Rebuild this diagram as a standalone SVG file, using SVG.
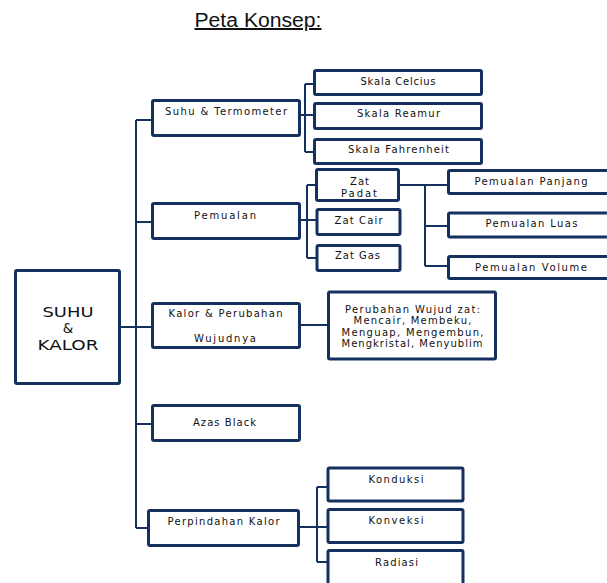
<svg xmlns="http://www.w3.org/2000/svg" width="607" height="583" viewBox="0 0 607 583">
<style>
.box{fill:#fff;stroke:#13305e;stroke-width:3;}
.c{fill:none;stroke:#13305e;stroke-width:2;}
text{font-family:"DejaVu Sans","Liberation Sans",sans-serif;font-size:10px;fill:#111;text-anchor:middle;}
.root{font-size:13.5px;}
.title{font-family:"Liberation Sans",Arial,sans-serif;font-size:20px;text-decoration:underline;}
</style>
<rect width="607" height="583" fill="#fff"/>
<text class="title" x="258" y="27" textLength="127" lengthAdjust="spacingAndGlyphs">Peta Konsep:</text>
<g id="connectors">
<path class="c" d="M136,120V528M121,327H151M136,120H151M136,222H151M136,424H151M136,528H147"/>
<path class="c" d="M301,115H305M305,84V152M305,84H313M305,115H313M305,152H313"/>
<path class="c" d="M301,220H307M307,185V258M307,185H315M307,220H316M307,258H316"/>
<path class="c" d="M400,185H425M425,185V266M425,185H447M425,226H447M425,266H447"/>
<path class="c" d="M301,325H327"/>
<path class="c" d="M300,527H317M317,487V562M317,487H327M317,527H327M317,562H327"/>
</g>
<g id="root"><rect class="box" x="15.5" y="270.5" width="104" height="113" rx="1.5"/>
<text class="root" x="68" y="316.5" textLength="51" lengthAdjust="spacingAndGlyphs">SUHU</text>
<text class="root" x="68" y="333">&amp;</text>
<text class="root" x="68" y="349.5" textLength="61" lengthAdjust="spacingAndGlyphs">KALOR</text></g>
<g id="suhu-termometer"><rect class="box" x="152.5" y="100.5" width="147" height="35" rx="1.5"/>
<text x="226" y="115" textLength="122">Suhu &amp; Termometer</text></g>
<g id="pemualan"><rect class="box" x="152.5" y="203.5" width="147" height="35" rx="1.5"/>
<text x="225" y="219" textLength="62">Pemualan</text></g>
<g id="kalor"><rect class="box" x="152.5" y="303.5" width="147" height="44" rx="1.5"/>
<text x="225.5" y="317" textLength="114">Kalor &amp; Perubahan</text>
<text x="225" y="342" textLength="62">Wujudnya</text></g>
<g id="azas-black"><rect class="box" x="152.5" y="405.5" width="147" height="35" rx="1.5"/>
<text x="224.5" y="426" textLength="63">Azas Black</text></g>
<g id="perpindahan"><rect class="box" x="148.5" y="510.5" width="150" height="35" rx="1.5"/>
<text x="223.5" y="525" textLength="112">Perpindahan Kalor</text></g>
<g id="skala-celcius"><rect class="box" x="314.5" y="70.5" width="167" height="24" rx="1.5"/>
<text x="398" y="85" textLength="75">Skala Celcius</text></g>
<g id="skala-reamur"><rect class="box" x="314.5" y="103.5" width="167" height="25" rx="1.5"/>
<text x="398.5" y="117" textLength="83">Skala Reamur</text></g>
<g id="skala-fahrenheit"><rect class="box" x="314.5" y="139.5" width="167" height="24" rx="1.5"/>
<text x="398.5" y="153" textLength="101">Skala Fahrenheit</text></g>
<g id="zat-padat"><rect class="box" x="316.5" y="169.5" width="82" height="31" rx="1.5"/>
<text x="359.5" y="185" textLength="19">Zat</text>
<text x="359" y="196.5" textLength="36">Padat</text></g>
<g id="zat-cair"><rect class="box" x="317" y="209.5" width="83" height="25" rx="1.5"/>
<text x="358.5" y="224" textLength="48">Zat Cair</text></g>
<g id="zat-gas"><rect class="box" x="317" y="245.5" width="83" height="25" rx="1.5"/>
<text x="357.5" y="259" textLength="45">Zat Gas</text></g>
<g id="pemualan-panjang"><rect class="box" x="448.5" y="170.5" width="165" height="23" rx="1.5"/>
<text x="531" y="185" textLength="113">Pemualan Panjang</text></g>
<g id="pemualan-luas"><rect class="box" x="448.5" y="213" width="165" height="24" rx="1.5"/>
<text x="531.5" y="226.5" textLength="92">Pemualan Luas</text></g>
<g id="pemualan-volume"><rect class="box" x="448.5" y="256.5" width="165" height="22" rx="1.5"/>
<text x="531" y="270.5" textLength="112">Pemualan Volume</text></g>
<g id="perubahan-wujud"><rect class="box" x="328.5" y="292" width="167" height="67" rx="1.5"/>
<text x="412.5" y="312.5" textLength="135">Perubahan Wujud zat:</text>
<text x="412.5" y="324" textLength="118">Mencair, Membeku,</text>
<text x="412.5" y="335.5" textLength="142">Menguap, Mengembun,</text>
<text x="412" y="347" textLength="141">Mengkristal, Menyublim</text></g>
<g id="konduksi"><rect class="box" x="328" y="468" width="135" height="33" rx="1.5"/>
<text x="396" y="482.5" textLength="55">Konduksi</text></g>
<g id="konveksi"><rect class="box" x="328" y="509.5" width="135" height="33" rx="1.5"/>
<text x="396" y="524" textLength="55">Konveksi</text></g>
<g id="radiasi"><rect class="box" x="328" y="550.5" width="135" height="45" rx="1.5"/>
<text x="396.5" y="565.5" textLength="43">Radiasi</text></g>
</svg>
